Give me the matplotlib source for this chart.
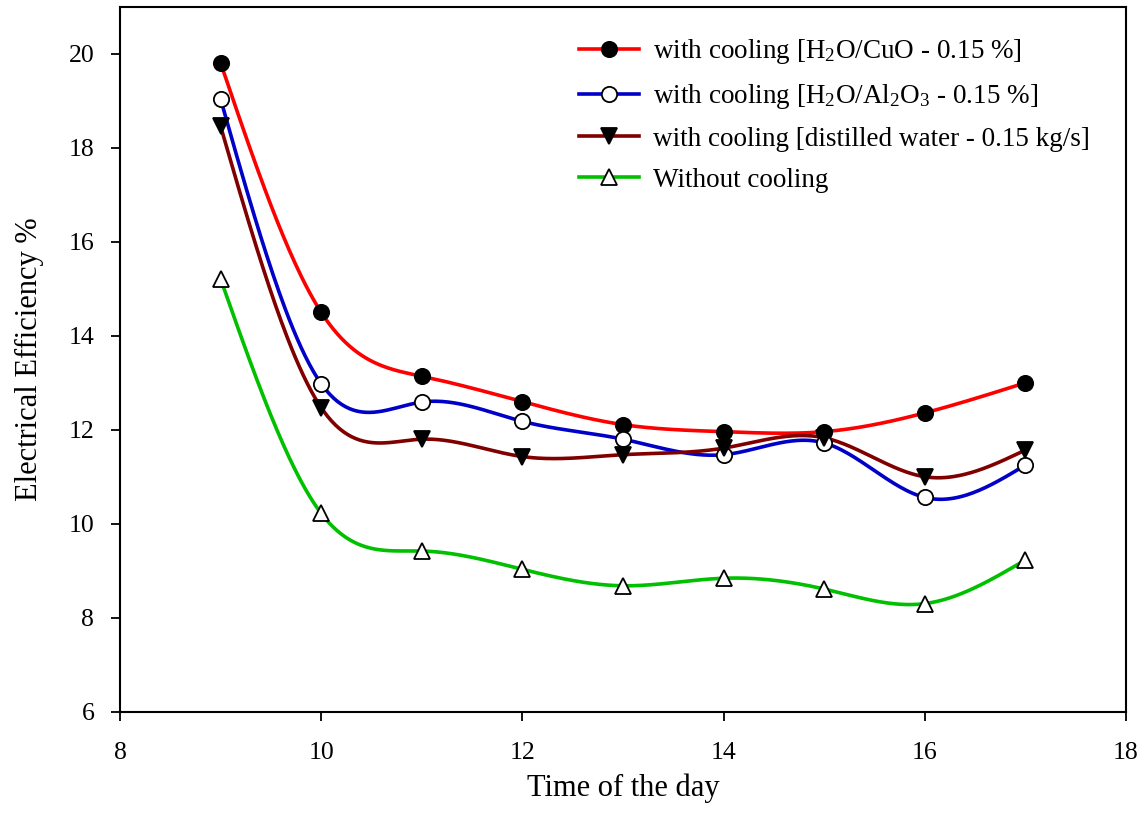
import numpy as np
import matplotlib
matplotlib.use("Agg")
import matplotlib.pyplot as plt

plt.rcParams['font.family'] = ['Liberation Serif', 'DejaVu Serif']
plt.rcParams['mathtext.fontset'] = 'custom'
plt.rcParams['mathtext.rm'] = 'Liberation Serif'
plt.rcParams['mathtext.it'] = 'Liberation Serif:italic'

# ---- data ----
hours = [9, 10, 11, 12, 13, 14, 15, 16, 17]
cuo = [19.81, 14.50, 13.14, 12.60, 12.11, 11.96, 11.96, 12.36, 13.00]
al2o3 = [19.04, 12.98, 12.59, 12.18, 11.80, 11.47, 11.72, 10.56, 11.25]
water = [18.46, 12.47, 11.80, 11.43, 11.47, 11.61, 11.83, 11.00, 11.57]
nocool = [15.21, 10.22, 9.42, 9.03, 8.68, 8.84, 8.61, 8.30, 9.23]

labels = [r'with cooling [H$_2$O/CuO - 0.15 %]',
          r'with cooling [H$_2$O/Al$_2$O$_3$ - 0.15 %]',
          'with cooling [distilled water - 0.15 kg/s]',
          'Without cooling']
colors = ['#ff0000', '#0000c8', '#800000', '#00c000']
markers = ['o', 'o', 'v', '^']
faces = ['black', 'white', 'black', 'white']
series = [cuo, al2o3, water, nocool]


def natural_spline(x, y, xs):
    x = np.asarray(x, float); y = np.asarray(y, float)
    n = len(x)
    h = np.diff(x)
    A = np.zeros((n, n)); b = np.zeros(n)
    A[0, 0] = 1; A[-1, -1] = 1
    for i in range(1, n - 1):
        A[i, i - 1] = h[i - 1]
        A[i, i] = 2 * (h[i - 1] + h[i])
        A[i, i + 1] = h[i]
        b[i] = 6 * ((y[i + 1] - y[i]) / h[i] - (y[i] - y[i - 1]) / h[i - 1])
    M = np.linalg.solve(A, b)
    idx = np.clip(np.searchsorted(x, xs) - 1, 0, n - 2)
    x0 = x[idx]; x1 = x[idx + 1]; hh = x1 - x0
    t0 = x1 - xs; t1 = xs - x0
    return (M[idx] * t0**3 / (6 * hh) + M[idx + 1] * t1**3 / (6 * hh)
            + (y[idx] / hh - M[idx] * hh / 6) * t0
            + (y[idx + 1] / hh - M[idx + 1] * hh / 6) * t1)


fig = plt.figure(figsize=(11.44, 8.31), dpi=100)
ax = fig.add_axes([0.1049, 0.1436, 0.8794, 0.848])

xs = np.linspace(hours[0], hours[-1], 400)
handles = []
for ys, c, m, f, lab in zip(series, colors, markers, faces, labels):
    ax.plot(xs, natural_spline(hours, ys, xs), color=c, lw=2.6, zorder=2)
    ax.plot(hours, ys, linestyle='none', marker=m, markersize=11,
            markerfacecolor=f, markeredgecolor='black', markeredgewidth=1.3, zorder=3)
    h, = ax.plot([], [], color=c, lw=2.6, marker=m, markersize=11,
                 markerfacecolor=f, markeredgecolor='black', markeredgewidth=1.3)
    handles.append(h)

ax.set_xlim(8, 18)
ax.set_ylim(6, 21)
ax.set_xticks([8, 10, 12, 14, 16, 18])
ax.set_yticks([6, 8, 10, 12, 14, 16, 18, 20])
ax.tick_params(direction='out', length=6.5, width=1.3, labelsize=18.5,
               top=False, right=False)
ax.tick_params(axis='x', pad=15)
ax.tick_params(axis='y', pad=12)
for s in ax.spines.values():
    s.set_linewidth(1.5)

ax.set_xlabel('Time of the day', fontsize=22, labelpad=7)
ax.set_ylabel('Electrical Efficiency %', fontsize=22, labelpad=18)

fig.legend(handles, labels, loc='upper left', bbox_to_anchor=(0.497, 0.968),
           frameon=False, fontsize=19.5, handlelength=2.2, handletextpad=0.5,
           labelspacing=0.58, borderaxespad=0)

fig.savefig('out.png', dpi=100)
